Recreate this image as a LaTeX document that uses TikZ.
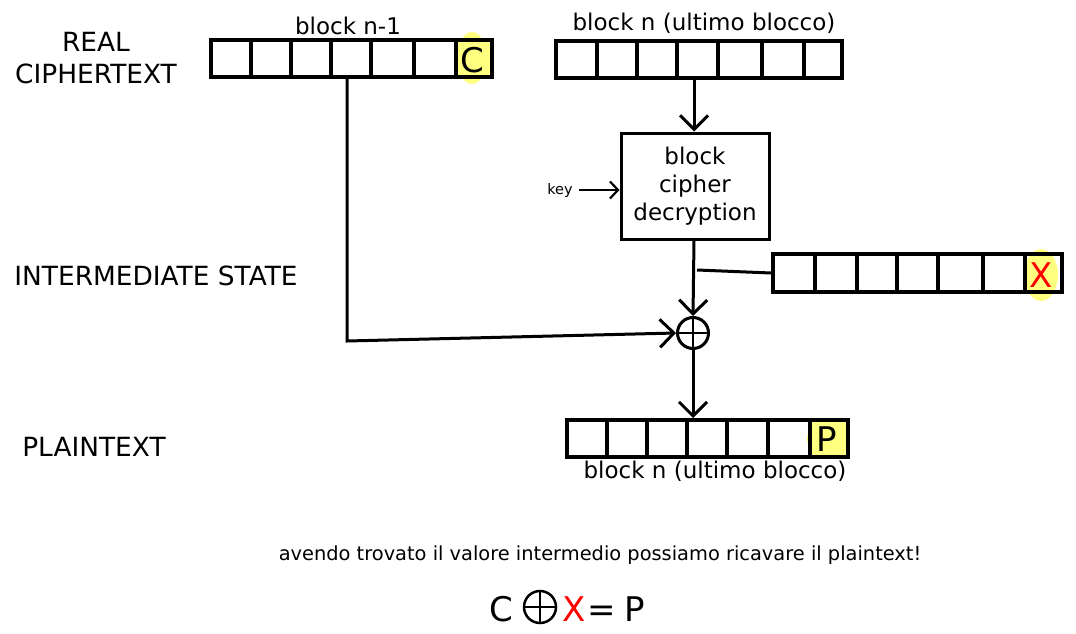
\documentclass[tikz,border=0pt]{standalone}
\usepackage{fontspec}
\setmainfont{DejaVu Sans}
\usetikzlibrary{positioning,arrows.meta}
\definecolor{hilite}{RGB}{255,255,128}

\tikzset{
  cellrow/.style={rectangle,draw,line width=4pt,inner sep=0pt,minimum height=37pt},
  lbl/.style={font=\fontsize{23}{28}\selectfont},
  caps/.style={font=\fontsize{26.4}{32}\selectfont,align=center},
  big/.style={font=\fontsize{34}{40}\selectfont,inner sep=0pt},
  flow/.style={line width=3pt,-{Straight Barb[length=14pt,width=28pt]}},
}

\begin{document}
\begin{tikzpicture}[x=1pt,y=-1pt]
  \useasboundingbox (0,0) rectangle (1076,634);

  % yellow marks behind the cells
  \fill[hilite] (456,40) rectangle (491,77);
  \fill[hilite] (472,58) ellipse (15 and 26);
  \fill[hilite] (1041,275) ellipse (17 and 26);
  \fill[hilite] (810,421) rectangle (847,456);
  \fill[hilite] (824,438.5) ellipse (17 and 16);

  % the four blocks
  \node[cellrow,minimum width=281pt] (prevblk) at (351.5,58.5) {};
  \foreach \x in {251,291,331,371,414,456}
    \draw[line width=4pt] (\x,40) -- (\x,79);
  \node[cellrow,minimum width=286pt] (lastblk) at (699,59.5) {};
  \foreach \x in {597,637,677,718,762,804}
    \draw[line width=4pt] (\x,41) -- (\x,80);
  \node[cellrow,minimum width=289pt,minimum height=38pt] (interblk) at (917.5,273) {};
  \foreach \x in {815,857,897,938,983,1025}
    \draw[line width=4pt] (\x,254) -- (\x,294);
  \node[cellrow,minimum width=281pt] (plainblk) at (707.5,438.5) {};
  \foreach \x in {607,647,687,727,768,810}
    \draw[line width=4pt] (\x,420) -- (\x,459);

  \node[big] (cval) at (472,60) {C};
  \node[big,text=red] (xval) at (1041,275) {X};
  \node[big] (pval) at (827,439) {P};

  % labels
  \node[caps] (realct) at (96,58) {REAL\\CIPHERTEXT};
  \node[caps] (inter) at (156,276) {INTERMEDIATE STATE};
  \node[caps] (plain) at (94,447) {PLAINTEXT};
  \node[lbl] (prevlbl) at (348,26) {block n-1};
  \node[lbl] (lastlbl) at (704,23) {block n (ultimo blocco)};
  \node[lbl] (plainlbl) at (715,471) {block n (ultimo blocco)};

  % decryption and xor
  \node[rectangle,draw,line width=3pt,minimum width=148pt,minimum height=106pt,
        lbl,align=center,inner sep=0pt] (dec) at (695,186) {block\\cipher\\decryption};
  \node[font=\fontsize{14.5}{16}\selectfont] (key) at (560,190) {key};
  \node[circle,draw,line width=3pt,minimum size=31pt,inner sep=0pt] (xor) at (693,333) {};
  \draw[line width=2.5pt] (xor.north) -- (xor.south) (xor.west) -- (xor.east);

  \coordinate (tap) at (697,270);
  \coordinate (corner) at (347,341);

  \draw[flow] (lastblk.south -| 694,0) -- (dec.north -| 694,0);
  \draw[line width=2.2pt,-{Straight Barb[length=8pt,width=17pt]},shorten <=3pt] (key) -- (dec.west |- key);
  \draw[flow] (dec.south -| 694,0) -- (xor.north);
  \draw[line width=3pt] (interblk.west) -- (tap);
  \draw[flow] (prevblk.south -| corner) -- (corner) -- (xor.west);
  \draw[flow] (xor.south) -- (plainblk.north -| xor.south);

  % bottom note
  \node[font=\fontsize{19.4}{23}\selectfont] (note) at (600,555)
    {avendo trovato il valore intermedio possiamo ricavare il plaintext!};
  \node[big,anchor=base] (fc) at (501,621) {C};
  \node[circle,draw,line width=2.5pt,minimum size=32pt,inner sep=0pt] (fxor) at (540,607) {};
  \draw[line width=2.5pt] (fxor.north) -- (fxor.south) (fxor.west) -- (fxor.east);
  \node[big,text=red,anchor=base] (fx) at (574,621) {X};
  \node[big,anchor=base] (feq) at (602,621) {=};
  \node[big,anchor=base] (fp) at (635,621) {P};
\end{tikzpicture}
\end{document}
